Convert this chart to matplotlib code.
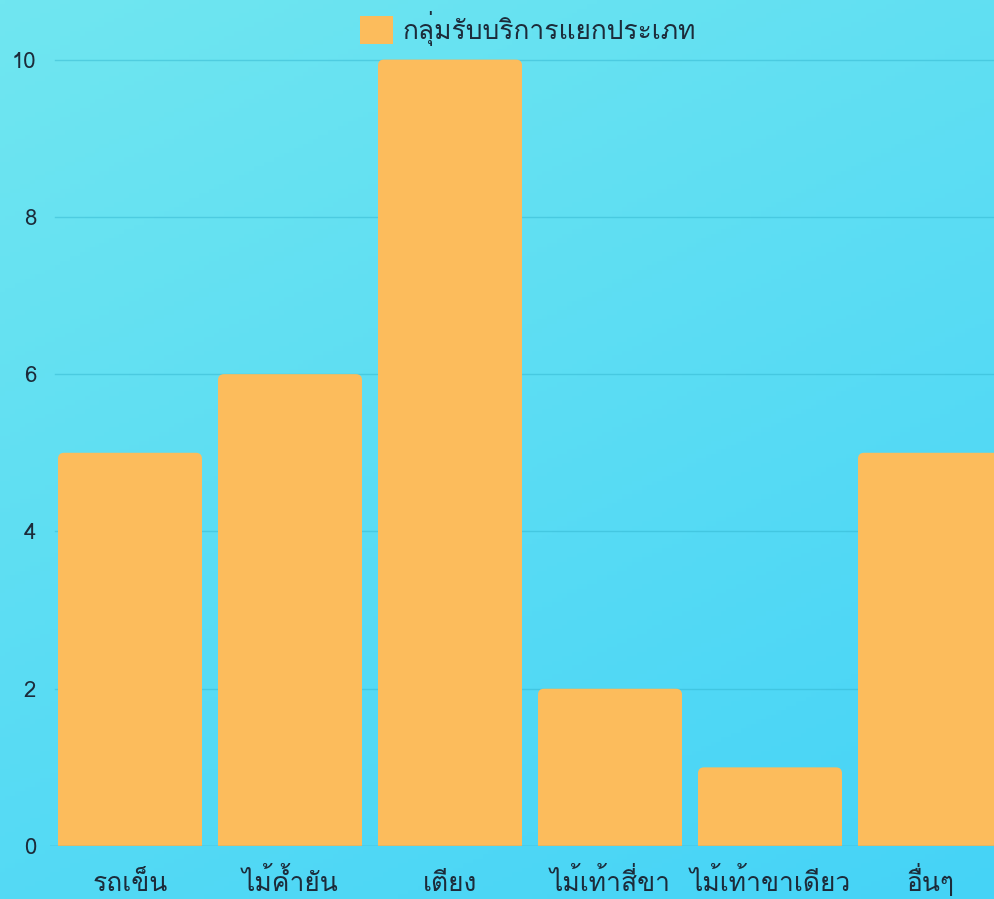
import numpy as np
import matplotlib
matplotlib.use("Agg")
import matplotlib.pyplot as plt
from matplotlib import font_manager
from matplotlib.ft2font import FT2Font
from matplotlib.patches import FancyBboxPatch, Patch
from matplotlib.transforms import blended_transform_factory

categories = ["รถเข็น", "ไม้ค้ำยัน", "เตียง", "ไม้เท้าสี่ขา", "ไม้เท้าขาเดียว", "อื่นๆ"]
counts = [5, 6, 10, 2, 1, 5]
series_name = "กลุ่มรับบริการแยกประเภท"
yticks = [0, 2, 4, 6, 8, 10]

# find a font that actually has Thai glyphs
thai_font = None
for f in font_manager.fontManager.ttflist:
    try:
        if 0x0E01 in FT2Font(f.fname).get_charmap():
            thai_font = f.name
            break
    except Exception:
        pass
families = ([thai_font] if thai_font else []) + ["Liberation Sans", "DejaVu Sans"]
plt.rcParams["font.family"] = families

W, H = 995, 899
fig = plt.figure(figsize=(W / 100, H / 100), dpi=100)

# gradient background
bg = fig.add_axes([0, 0, 1, 1], zorder=0)
yy, xx = np.mgrid[0:1:200j, 0:1:200j]
t = (0.65 * yy + 0.35 * xx)
c0 = np.array([0x70, 0xe6, 0xf0]) / 255
c1 = np.array([0x45, 0xd3, 0xf7]) / 255
img = c0[None, None, :] * (1 - t[..., None]) + c1[None, None, :] * t[..., None]
bg.imshow(img, aspect="auto", extent=[0, 1, 0, 1], origin="upper")
bg.axis("off")

left, right = 50 / W, 1010 / W
bottom, top = (H - 846) / H, (H - 58) / H
ax = fig.add_axes([left, bottom, right - left, top - bottom], zorder=1)
ax.patch.set_alpha(0)

x = np.arange(len(categories))
bar_w = 0.9
bar_color = "#fcbc5c"
px_x = (right - left) * W / len(categories)
px_y = (top - bottom) * H / 10.0
r = 6
for xi, v in zip(x, counts):
    p = FancyBboxPatch((xi - bar_w / 2, -0.3), bar_w, v + 0.3,
                       boxstyle=f"round,pad=0,rounding_size={r / px_x}",
                       mutation_aspect=px_x / px_y,
                       facecolor=bar_color, edgecolor="none", zorder=3)
    ax.add_patch(p)

txt_col = "#1c2b3a"
ax.set_xlim(-0.5, len(categories) - 0.5)
ax.set_ylim(0, 10.02)
ax.set_yticks(yticks)
ax.set_yticklabels([str(v) for v in yticks], fontsize=16, color=txt_col)
ax.set_xticks(x)
ax.set_xticklabels([])
ax.tick_params(axis="both", length=0)
ax.tick_params(axis="y", pad=10)

# category labels on a common baseline (Thai marks make tick label boxes uneven)
trans = blended_transform_factory(ax.transData, fig.transFigure)
for xi, lab in zip(x, categories):
    ax.text(xi, 1 - 891 / H, lab, transform=trans, ha="center", va="baseline",
            fontsize=19, color=txt_col, clip_on=False)

for yv in yticks[1:]:
    ax.axhline(yv, xmin=5 / 960, color="#2fb2cc", alpha=0.45, linewidth=1.0, zorder=1)
ax.axhline(0, color="#3a8fa0", alpha=0.6, linewidth=1.0, zorder=4)
for s in ax.spines.values():
    s.set_visible(False)

leg = fig.legend(handles=[Patch(facecolor=bar_color, edgecolor="none")],
                 labels=[series_name], loc="center", bbox_to_anchor=(0.531, 1 - 28 / H),
                 frameon=False, fontsize=19, handlelength=1.25, handleheight=1.25,
                 handletextpad=0.35)
for txt in leg.get_texts():
    txt.set_color(txt_col)

fig.savefig("out.png", dpi=100)
